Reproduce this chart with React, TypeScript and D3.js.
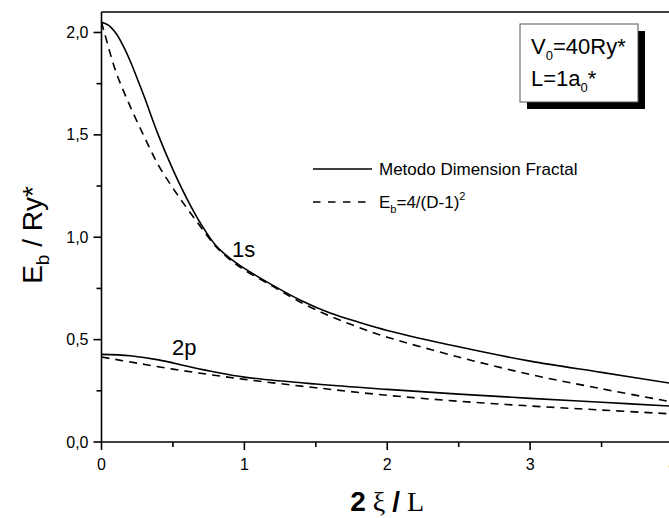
import React from "react";
import * as d3 from "d3";

const xs1s = [0, 0.05, 0.1, 0.15, 0.2, 0.25, 0.3, 0.4, 0.5, 0.6, 0.7, 0.8, 0.9, 1.0, 1.2, 1.4, 1.6, 1.8, 2.0, 2.5, 3.0, 3.5, 4.0];
const solid1s = [2.05, 2.035, 1.997, 1.937, 1.862, 1.775, 1.685, 1.495, 1.33, 1.185, 1.06, 0.96, 0.897, 0.848, 0.765, 0.69, 0.63, 0.585, 0.545, 0.465, 0.395, 0.34, 0.285];
const xsDash1s = [0, 0.02, 0.1, 0.2, 0.3, 0.4, 0.5, 0.6, 0.7, 0.8, 0.9, 1.0, 1.2, 1.4, 1.6, 1.8, 2.0, 2.5, 3.0, 3.5, 4.0];
const dashed1s = [2.05, 2.0, 1.81, 1.64, 1.49, 1.35, 1.24, 1.14, 1.045, 0.955, 0.89, 0.84, 0.76, 0.68, 0.615, 0.56, 0.512, 0.415, 0.33, 0.26, 0.195];
const xs2p = [0, 0.2, 0.4, 0.6, 0.8, 1.0, 1.5, 2.0, 2.5, 3.0, 3.5, 4.0];
const solid2p = [0.428, 0.421, 0.401, 0.37, 0.341, 0.317, 0.283, 0.257, 0.234, 0.213, 0.194, 0.175];
const xsDash2p = [0, 0.25, 0.5, 0.75, 1.0, 1.5, 2.0, 2.5, 3.0, 3.5, 4.0];
const dashed2p = [0.415, 0.385, 0.356, 0.33, 0.306, 0.265, 0.228, 0.199, 0.176, 0.156, 0.137];

const xMajor = [0, 1, 2, 3, 4];
const xMinor = [0.5, 1.5, 2.5, 3.5];
const yMajor = [0, 0.5, 1.0, 1.5, 2.0];
const yMinor = [0.25, 0.75, 1.25, 1.75];
const yTickLabels = ["0,0", "0,5", "1,0", "1,5", "2,0"];
const xTickLabels = ["0", "1", "2", "3", "4"];
const legendLabels = ["Metodo Dimension Fractal", "E_b=4/(D-1)^2"];

const SANS = "Arial, 'Liberation Sans', Helvetica, sans-serif";
const SERIF = "'Times New Roman', 'Liberation Serif', 'DejaVu Serif', serif";

export default function App() {
  const W = 669, H = 518;
  const x = d3.scaleLinear().domain([0, 4]).range([101.5, 673]);
  const y = d3.scaleLinear().domain([0, 2.1]).range([442, 12]);
  const line = (xv: number[], yv: number[]) =>
    d3.line<number>().x((_, i) => x(xv[i])).y((d) => y(d)).curve(d3.curveCatmullRom.alpha(0.5))(yv) || "";
  const sw = 1.6;
  const dash = "8 6";
  return (
    <svg width={W} height={H} style={{ position: "absolute", left: 0, top: 0, background: "#fff" }} fontFamily={SANS}>
      <rect x={0} y={0} width={W} height={H} fill="#fff" />
      {/* curves */}
      <g fill="none" stroke="#000" strokeWidth={sw}>
        <path d={line(xs1s, solid1s)} />
        <path d={line(xsDash1s, dashed1s)} strokeDasharray={dash} />
        <path d={line(xs2p, solid2p)} />
        <path d={line(xsDash2p, dashed2p)} strokeDasharray={dash} />
      </g>
      {/* frame */}
      <g stroke="#000" strokeWidth={1.6} fill="none">
        <line x1={x(0)} x2={x(0)} y1={y(2.1)} y2={y(0)} />
        <line x1={x(0)} x2={x(4)} y1={y(0)} y2={y(0)} />
        <line x1={x(0)} x2={x(4)} y1={y(2.1)} y2={y(2.1)} />
        <line x1={x(4)} x2={x(4)} y1={y(2.1)} y2={y(0)} />
        {yMajor.map((v) => (
          <line key={"ym" + v} x1={x(0) - 8} x2={x(0)} y1={y(v)} y2={y(v)} />
        ))}
        {yMinor.map((v) => (
          <line key={"yn" + v} x1={x(0) - 5} x2={x(0)} y1={y(v)} y2={y(v)} />
        ))}
        {xMajor.map((v) => (
          <line key={"xm" + v} x1={x(v)} x2={x(v)} y1={y(0)} y2={y(0) + 8} />
        ))}
        {xMinor.map((v) => (
          <line key={"xn" + v} x1={x(v)} x2={x(v)} y1={y(0)} y2={y(0) + 5} />
        ))}
      </g>
      {/* tick labels */}
      <g fontSize={16} fill="#000">
        {yMajor.map((v, i) => (
          <text key={"yl" + v} x={x(0) - 13} y={y(v)} dy="0.35em" textAnchor="end">{yTickLabels[i]}</text>
        ))}
        {xMajor.map((v, i) => (
          <text key={"xl" + v} x={x(v)} y={y(0) + 28} textAnchor="middle">{xTickLabels[i]}</text>
        ))}
      </g>
      {/* axis titles */}
      <text transform="translate(42,235) rotate(-90)" textAnchor="middle" fontSize={28}>
        E<tspan fontSize={19} dy={7}>b</tspan><tspan dy={-7}> / Ry*</tspan>
      </text>
      <text x={x(2)} y={511} textAnchor="middle" fontSize={28}>
        <tspan fontWeight="bold">2</tspan>
        <tspan fontFamily={SERIF}> ξ </tspan>
        <tspan fontWeight="bold">/</tspan>
        <tspan fontFamily={SERIF}> L</tspan>
      </text>
      {/* curve labels */}
      <text x={232} y={257} fontSize={22}>1s</text>
      <text x={172} y={355} fontSize={22}>2p</text>
      {/* legend */}
      <g>
        <line x1={313} x2={372} y1={169} y2={169} stroke="#000" strokeWidth={1.6} />
        <line x1={313} x2={372} y1={202} y2={202} stroke="#000" strokeWidth={1.6} strokeDasharray="7.5 7.5" />
        <text x={379} y={175} fontSize={17}>{legendLabels[0]}</text>
        <text x={379} y={208} fontSize={17}>
          E<tspan fontSize={11} dy={5}>b</tspan><tspan dy={-5}>=4/(D-1)</tspan><tspan fontSize={11} dy={-8}>2</tspan>
        </text>
      </g>
      {/* info box */}
      <g>
        <rect x={527} y={31} width={118} height={78} fill="#000" />
        <rect x={520} y={24} width={118} height={78} fill="#fff" stroke="#555" strokeWidth={1} />
        <text x={531} y={54} fontSize={22}>
          V<tspan fontSize={13} dy={6}>0</tspan><tspan dy={-6}>=40Ry*</tspan>
        </text>
        <text x={531} y={86} fontSize={22}>
          L=1a<tspan fontSize={13} dy={6}>0</tspan><tspan dy={-6}>*</tspan>
        </text>
      </g>
    </svg>
  );
}
